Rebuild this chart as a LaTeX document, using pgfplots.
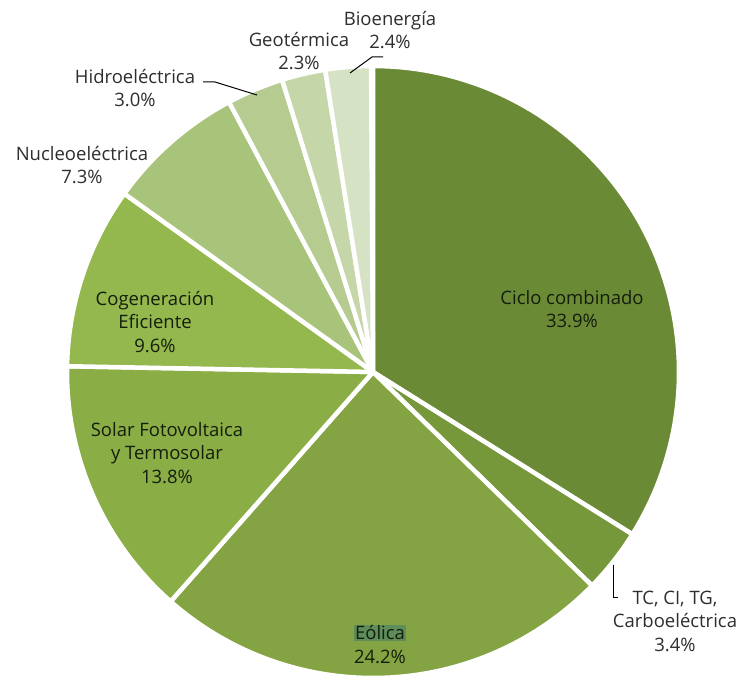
\documentclass[border=0pt]{standalone}
\usepackage{fontspec}
\setmainfont{Open Sans}
\usepackage{pgfplots}
\pgfplotsset{compat=1.18}
\definecolor{cCiclo}{HTML}{6B8A35}
\definecolor{cTC}{HTML}{76973A}
\definecolor{cEol}{HTML}{84A443}
\definecolor{cSol}{HTML}{8AAE45}
\definecolor{cCog}{HTML}{94B84E}
\definecolor{cNuc}{HTML}{A8C37A}
\definecolor{cHid}{HTML}{B5CB90}
\definecolor{cGeo}{HTML}{C5D6A8}
\definecolor{cBio}{HTML}{D6E2C4}
\definecolor{hl}{HTML}{5E8C5A}
\definecolor{outtxt}{HTML}{2E2E2E}
\definecolor{intxt}{HTML}{141E0C}
% #1 cumulative share before the slice (%), #2 share (%), #3 colour
\newcommand\slice[3]{%
  \addplot[fill=#3, draw=white, line width=4.5pt, line join=round,
    domain={90-3.6*(#1+#2)}:{90-3.6*(#1)}, samples=90]
    ({373+306*cos(x)},{305+306*sin(x)}) -- (axis cs:373,305) -- cycle;}
\begin{document}
\begin{tikzpicture}[every node/.style={font=\fontsize{18.5}{23.5}\selectfont, align=center}]
\begin{axis}[x=1pt, y=1pt, xmin=0, xmax=741, ymin=0, ymax=677,
  hide axis, clip=false, scale only axis]
\path (axis cs:0,0) rectangle (axis cs:741,677);
\slice{0}{33.9}{cCiclo}
\slice{33.9}{3.4}{cTC}
\slice{37.3}{24.2}{cEol}
\slice{61.5}{13.8}{cSol}
\slice{75.3}{9.6}{cCog}
\slice{84.9}{7.3}{cNuc}
\slice{92.2}{3.0}{cHid}
\slice{95.2}{2.3}{cGeo}
\slice{97.5}{2.4}{cBio}
% leader lines
\draw[black, line width=1pt] (axis cs:613,112) -- (axis cs:613,79) -- (axis cs:618,79);
\draw[black, line width=1pt] (axis cs:203,595) -- (axis cs:215,595) -- (axis cs:257,582);
\draw[black, line width=1pt] (axis cs:350,604) -- (axis cs:372,620) -- (axis cs:383,620);
% labels inside
\node[text=intxt] at (axis cs:572,368) {Ciclo combinado\\33.9\%};
\node[text=intxt] at (axis cs:167,224) {Solar Fotovoltaica\\y Termosolar\\13.8\%};
\node[text=intxt] at (axis cs:155,355) {Cogeneración\\Eficiente\\9.6\%};
\node[text=intxt, fill=hl, inner sep=1pt] at (axis cs:380,44) {Eólica};
\node[text=intxt] at (axis cs:380,20) {24.2\%};
% labels outside
\node[text=outtxt] at (axis cs:675,56) {TC, CI, TG,\\Carboeléctrica\\3.4\%};
\node[text=outtxt] at (axis cs:82,512) {Nucleoeléctrica\\7.3\%};
\node[text=outtxt] at (axis cs:135,589) {Hidroeléctrica\\3.0\%};
\node[text=outtxt] at (axis cs:299,626) {Geotérmica\\2.3\%};
\node[text=outtxt] at (axis cs:390,647) {Bioenergía\\2.4\%};
\end{axis}
\end{tikzpicture}
\end{document}
